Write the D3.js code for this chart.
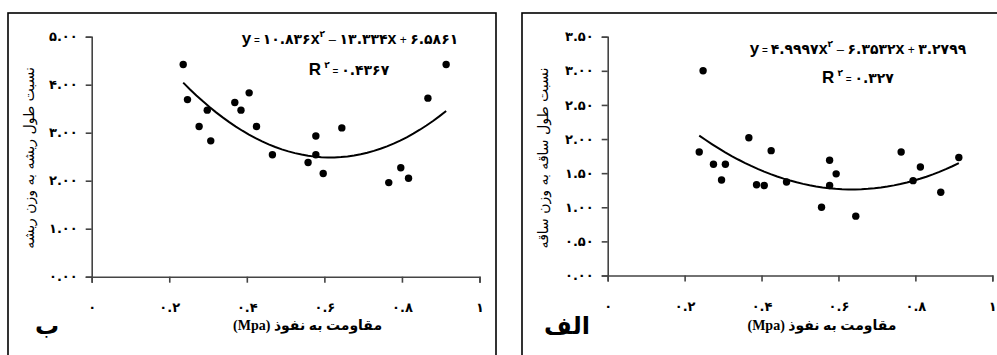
<!DOCTYPE html>
<html>
<head>
<meta charset="utf-8">
<script src="https://cdn.jsdelivr.net/npm/d3@7"></script>
<style>
  html, body { margin: 0; padding: 0; background: #fff; }
  svg { display: block; }
</style>
</head>
<body>
<div id="chart"></div>
<script>
// chart B (left) - root
var rootX = [0.236, 0.247, 0.298, 0.277, 0.307, 0.369, 0.406, 0.385, 0.425, 0.466,
             0.578, 0.578, 0.558, 0.597, 0.645, 0.914, 0.867, 0.797, 0.766, 0.817];
var rootY = [4.42, 3.69, 3.47, 3.13, 2.83, 3.63, 3.83, 3.47, 3.13, 2.54,
             2.93, 2.54, 2.38, 2.15, 3.10, 4.42, 3.72, 2.27, 1.96, 2.05];
var rootCoef = [10.836, -13.334, 6.5861];
var rootYTicks = [0, 1, 2, 3, 4, 5];

// chart alef (right) - stem
var stemX = [0.248, 0.238, 0.275, 0.306, 0.296, 0.367, 0.387, 0.407, 0.425, 0.465,
             0.556, 0.577, 0.577, 0.594, 0.645, 0.763, 0.813, 0.794, 0.866, 0.913];
var stemY = [3.00, 1.81, 1.63, 1.63, 1.40, 2.02, 1.33, 1.32, 1.83, 1.37,
             1.00, 1.69, 1.32, 1.49, 0.87, 1.81, 1.59, 1.39, 1.22, 1.73];
var stemCoef = [4.9997, -6.3532, 3.2799];
var stemYTicks = [0, 0.5, 1, 1.5, 2, 2.5, 3, 3.5];

var xTicks = [0, 0.2, 0.4, 0.6, 0.8, 1];

var W = 997, H = 355;
var faDigits = "۰۱۲۳۴۵۶۷۸۹";
function fa(s) { return String(s).replace(/[0-9]/g, function(c) { return faDigits[+c]; }); }

var svg = d3.select("#chart").append("svg").attr("width", W).attr("height", H);

var charts = [
  { frame: [8, 13, 488], ox: 91.7, x1: 479.5, y0: 276.7, yTop: 36.7, yMax: 5, xs: rootX, ys: rootY,
    coef: rootCoef, yTicks: rootYTicks, yFmt: ".2f", r2: "0.4367",
    yTitle: "نسبت طول ریشه به وزن ریشه", yTitleX: 34, tag: "ب", tagX: 47,
    eqX: 350, eqY: 44, r2X: 349, r2Y: 75 },
  { frame: [522, 13, 490], ox: 607.7, x1: 992.3, y0: 275.5, yTop: 36.7, yMax: 3.5, xs: stemX, ys: stemY,
    coef: stemCoef, yTicks: stemYTicks, yFmt: ".2f", r2: "0.327",
    yTitle: "نسبت طول ساقه به وزن ساقه", yTitleX: 548, tag: "الف", tagX: 567,
    eqX: 858, eqY: 54, r2X: 858, r2Y: 83 }
];

var font = "'DejaVu Sans', sans-serif";
var latin = "'Liberation Sans', Arial, sans-serif";
var serif = "'Liberation Serif', 'DejaVu Sans', serif";

charts.forEach(function(c) {
  // outer frame
  svg.append("rect")
    .attr("x", c.frame[0]).attr("y", c.frame[1])
    .attr("width", c.frame[2]).attr("height", 400)
    .attr("fill", "none").attr("stroke", "#000").attr("stroke-width", 1.6);

  var x = d3.scaleLinear().domain([0, 1]).range([c.ox, c.x1]);
  var y = d3.scaleLinear().domain([0, c.yMax]).range([c.y0, c.yTop]);

  // axes
  var gx = svg.append("g").attr("transform", "translate(0," + c.y0 + ")")
    .call(d3.axisBottom(x).tickValues(xTicks).tickSize(6).tickFormat(function(d) { return fa(d); }));
  var gy = svg.append("g").attr("transform", "translate(" + c.ox + ",0)")
    .call(d3.axisLeft(y).tickValues(c.yTicks).tickSize(6).tickFormat(function(d) { return fa(d3.format(c.yFmt)(d)); }));

  [gx, gy].forEach(function(g) {
    g.select(".domain").attr("stroke", "#444").attr("stroke-width", 1.6);
    g.selectAll(".tick line").attr("stroke", "#444").attr("stroke-width", 1.6);
    g.selectAll(".tick text").attr("fill", "#000").style("font-family", font)
      .style("font-size", "13px").style("font-weight", "bold");
  });
  gx.selectAll(".tick text").attr("y", 26);
  gy.selectAll(".tick text").attr("x", -14);

  // trend line
  var xmin = d3.min(c.xs), xmax = d3.max(c.xs);
  var pts = d3.range(0, 41).map(function(i) {
    var xv = xmin + (xmax - xmin) * i / 40;
    return [xv, c.coef[0] * xv * xv + c.coef[1] * xv + c.coef[2]];
  });
  svg.append("path").datum(pts)
    .attr("d", d3.line().x(function(d) { return x(d[0]); }).y(function(d) { return y(d[1]); }))
    .attr("fill", "none").attr("stroke", "#000").attr("stroke-width", 2);

  // points
  svg.selectAll(null).data(c.xs).enter().append("circle")
    .attr("cx", function(d) { return x(d); })
    .attr("cy", function(d, i) { return y(c.ys[i]); })
    .attr("r", 3.7).attr("fill", "#000");

  // equation
  var a = Math.abs(c.coef[0]).toString(), b = Math.abs(c.coef[1]).toString(), k = c.coef[2].toString();
  var eq = svg.append("text").attr("x", c.eqX).attr("y", c.eqY)
    .attr("text-anchor", "middle").attr("direction", "ltr")
    .style("font-family", latin).style("font-weight", "bold").style("font-size", "16px");
  eq.append("tspan").style("font-size", "17px").text("y");
  eq.append("tspan").style("font-size", "10px").style("font-weight", "normal").text(" = ");
  eq.append("tspan").style("font-family", font).style("font-size", "14px").text(fa(a));
  eq.append("tspan").text("x");
  eq.append("tspan").attr("dy", -7).style("font-family", font).style("font-size", "9px").text(fa(2));
  eq.append("tspan").attr("dy", 7).style("font-size", "13px").style("font-weight", "normal").text(" – ");
  eq.append("tspan").style("font-family", font).style("font-size", "14px").text(fa(b));
  eq.append("tspan").text("x");
  eq.append("tspan").style("font-size", "12px").style("font-weight", "normal").text(" + ");
  eq.append("tspan").style("font-family", font).style("font-size", "14px").text(fa(k));

  var r2 = svg.append("text").attr("x", c.r2X).attr("y", c.r2Y)
    .attr("text-anchor", "middle").attr("direction", "ltr")
    .style("font-family", latin).style("font-weight", "bold").style("font-size", "17px");
  r2.append("tspan").text("R");
  r2.append("tspan").attr("dy", -7).style("font-family", font).style("font-size", "9px").text(" " + fa(2));
  r2.append("tspan").attr("dy", 7).style("font-size", "10px").style("font-weight", "normal").text(" = ");
  r2.append("tspan").style("font-family", font).style("font-size", "14px").text(fa(c.r2));

  // y title
  svg.append("text")
    .attr("transform", "translate(" + c.yTitleX + "," + 158 + ") rotate(-90)")
    .attr("text-anchor", "middle").attr("direction", "rtl")
    .style("font-family", font).style("font-size", "14px")
    .text(c.yTitle);

  // x title
  svg.append("text")
    .attr("x", (c.ox + c.x1) / 2 + 22).attr("y", 330)
    .attr("text-anchor", "middle").attr("direction", "rtl")
    .style("font-family", serif).style("font-size", "14px").style("font-weight", "bold")
    .text("مقاومت به  نفوذ (Mpa)");

  // panel tag
  svg.append("text")
    .attr("x", c.tagX).attr("y", 334)
    .attr("text-anchor", "middle").attr("direction", "rtl")
    .style("font-family", font).style("font-size", "24px").style("font-weight", "bold")
    .text(c.tag);
});
</script>
</body>
</html>
